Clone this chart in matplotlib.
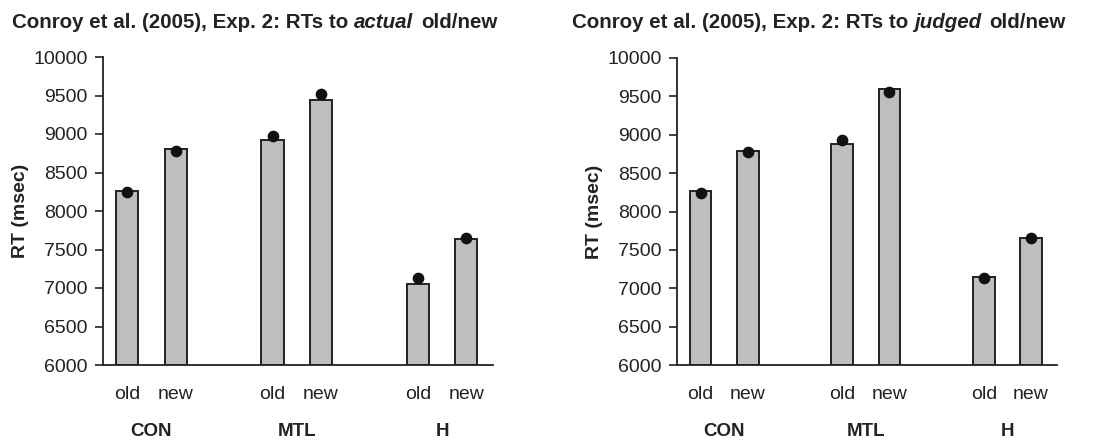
import matplotlib
matplotlib.use("Agg")
import matplotlib.pyplot as plt

plt.rcParams['font.family'] = ['Liberation Sans', 'DejaVu Sans']

groups = ["CON", "MTL", "H"]
conditions = ["old", "new"]
positions = [0, 1, 3, 4, 6, 7]
group_centers = [0.5, 3.5, 6.5]

actual_bars = [8260, 8810, 8925, 9445, 7055, 7635]
actual_dots = [8245, 8785, 8980, 9515, 7130, 7645]
judged_bars = [8270, 8785, 8875, 9590, 7150, 7650]
judged_dots = [8235, 8775, 8930, 9555, 7135, 7655]

yticks = [6000, 6500, 7000, 7500, 8000, 8500, 9000, 9500, 10000]

W, H = 1111, 441
fig = plt.figure(figsize=(W / 100, H / 100), dpi=100)
INK = "#222222"

def add_panel(rect_px, bars, dots, title_x, italic_word):
    l, t, r, b = rect_px
    ax = fig.add_axes([l / W, 1 - b / H, (r - l) / W, (b - t) / H])
    ax.bar(positions, [v - 6000 for v in bars], bottom=6000, width=0.46,
           color="#bebebe", edgecolor=INK, linewidth=1.4, zorder=2)
    ax.plot(positions, dots, "o", color="#111111", markersize=7.4, zorder=3,
            clip_on=False)
    ax.set_xlim(-0.5, 7.55)
    ax.set_ylim(6000, 10000)
    ax.set_yticks(yticks)
    ax.set_yticklabels([str(v) for v in yticks], fontsize=14, color=INK)
    ax.tick_params(axis="y", direction="out", length=6, width=1.2, pad=5,
                   color=INK)
    ax.set_xticks(positions)
    ax.set_xticklabels(conditions * 3, fontsize=14, color=INK)
    ax.tick_params(axis="x", length=0, pad=15)
    for g, c in zip(groups, group_centers):
        ax.text(c, -0.215, g, transform=ax.get_xaxis_transform(), ha="center",
                va="center", fontsize=13.5, fontweight="bold", color=INK)
    for s in ["top", "right"]:
        ax.spines[s].set_visible(False)
    for s in ["left", "bottom"]:
        ax.spines[s].set_linewidth(1.3)
        ax.spines[s].set_color(INK)
    ax.set_ylabel("RT (msec)", fontsize=14, fontweight="bold", color=INK,
                  labelpad=3)
    t1 = fig.text(title_x / W, 1 - 28 / H, "Conroy et al. (2005), Exp. 2: RTs to",
                  fontsize=14.8, fontweight="bold", color=INK, va="baseline")
    a2 = ax.annotate(italic_word, xy=(1, 0), xycoords=t1, xytext=(4, 0),
                     textcoords="offset points", va="bottom", ha="left",
                     fontsize=14.8, fontweight="bold", fontstyle="italic",
                     color=INK, annotation_clip=False)
    ax.annotate("old/new", xy=(1, 0), xycoords=a2, xytext=(6, 0),
                textcoords="offset points", va="bottom", ha="left",
                fontsize=14.8, fontweight="bold", color=INK,
                annotation_clip=False)
    return ax

add_panel((103, 57, 493, 365), actual_bars, actual_dots, 12, "actual")
add_panel((677, 58, 1057, 365), judged_bars, judged_dots, 572, "judged")

fig.savefig("out.png", dpi=100)
